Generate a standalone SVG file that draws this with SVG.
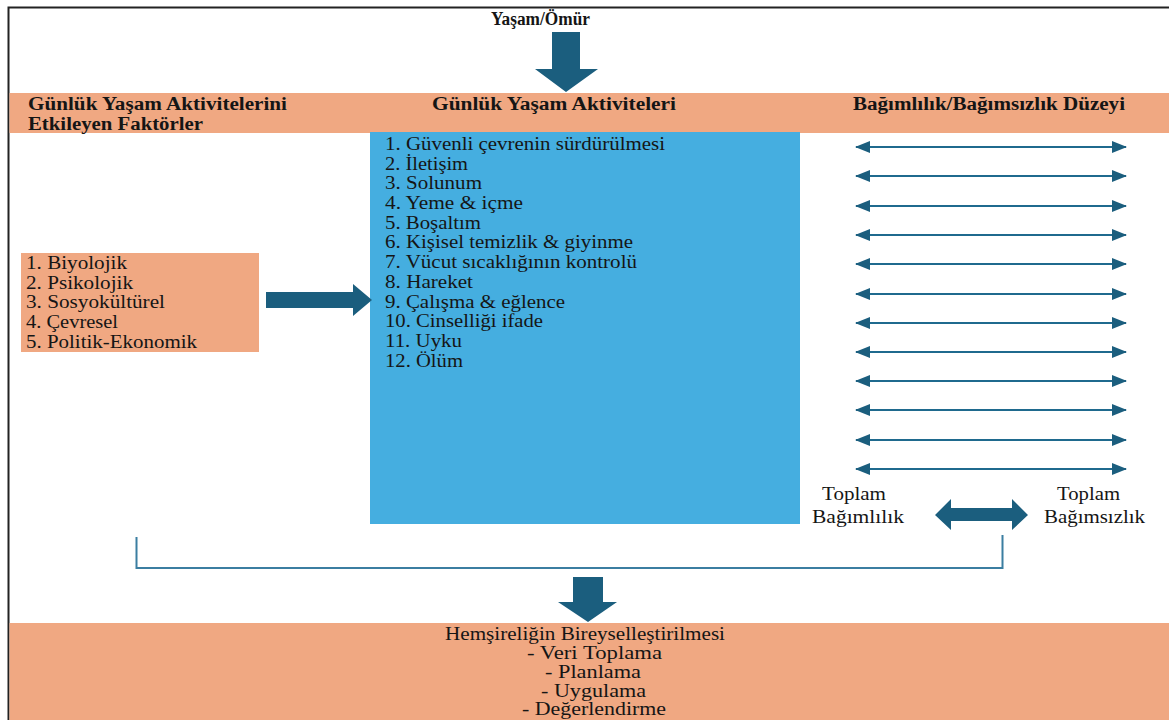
<svg xmlns="http://www.w3.org/2000/svg" width="1169" height="720" viewBox="0 0 1169 720">
<style>
text{font-family:"Liberation Serif","DejaVu Serif",serif;font-size:18px;fill:#151515}
.b{font-weight:bold}
.or{fill:#F0A882}
.ar{fill:#1B5E7E}
.dl{stroke:#1F6A8E;stroke-width:2.2;fill:none}
</style>
<defs>
<marker id="ah" viewBox="0 0 15 12" refX="14" refY="6" markerWidth="15" markerHeight="12" markerUnits="userSpaceOnUse" orient="auto-start-reverse">
<path d="M0,0 L15,6 L0,12 z" fill="#1B5E7E"/>
</marker>
</defs>
<rect x="0" y="0" width="1169" height="720" fill="#fff"/>
<rect x="8.5" y="7.5" width="1175" height="730" fill="none" stroke="#222" stroke-width="2"/>

<g id="header-band">
<rect class="or" x="9.5" y="93" width="1160" height="40"/>
</g>

<g id="node-yasam">
<text class="b" x="491" y="25" textLength="99" lengthAdjust="spacingAndGlyphs">Yaşam/Ömür</text>
</g>

<g id="header-left">
<text class="b" x="28" y="110" textLength="259" lengthAdjust="spacingAndGlyphs">Günlük Yaşam Aktivitelerini</text>
<text class="b" x="28" y="130" textLength="175" lengthAdjust="spacingAndGlyphs">Etkileyen Faktörler</text>
</g>
<g id="header-middle">
<text class="b" x="432" y="110" textLength="244" lengthAdjust="spacingAndGlyphs">Günlük Yaşam Aktiviteleri</text>
</g>
<g id="header-right">
<text class="b" x="853" y="110" textLength="272" lengthAdjust="spacingAndGlyphs">Bağımlılık/Bağımsızlık Düzeyi</text>
</g>

<g id="node-factors">
<rect class="or" x="21" y="253" width="238" height="99"/>
<text x="26" y="269" textLength="101" lengthAdjust="spacingAndGlyphs">1. Biyolojik</text>
<text x="26" y="289" textLength="107" lengthAdjust="spacingAndGlyphs">2. Psikolojik</text>
<text x="26" y="308" textLength="139" lengthAdjust="spacingAndGlyphs">3. Sosyokültürel</text>
<text x="26" y="328" textLength="92" lengthAdjust="spacingAndGlyphs">4. Çevresel</text>
<text x="26" y="348" textLength="171" lengthAdjust="spacingAndGlyphs">5. Politik-Ekonomik</text>
</g>

<g id="node-activities">
<rect x="370" y="132" width="430" height="392" fill="#45AEE0"/>
<text x="385" y="150" textLength="280" lengthAdjust="spacingAndGlyphs">1. Güvenli çevrenin sürdürülmesi</text>
<text x="385" y="170" textLength="83" lengthAdjust="spacingAndGlyphs">2. İletişim</text>
<text x="385" y="189" textLength="97" lengthAdjust="spacingAndGlyphs">3. Solunum</text>
<text x="385" y="209" textLength="138" lengthAdjust="spacingAndGlyphs">4. Yeme &amp; içme</text>
<text x="385" y="229" textLength="96" lengthAdjust="spacingAndGlyphs">5. Boşaltım</text>
<text x="385" y="248" textLength="248" lengthAdjust="spacingAndGlyphs">6. Kişisel temizlik &amp; giyinme</text>
<text x="385" y="268" textLength="252" lengthAdjust="spacingAndGlyphs">7. Vücut sıcaklığının kontrolü</text>
<text x="385" y="288" textLength="88" lengthAdjust="spacingAndGlyphs">8. Hareket</text>
<text x="385" y="308" textLength="180" lengthAdjust="spacingAndGlyphs">9. Çalışma &amp; eğlence</text>
<text x="385" y="327" textLength="158" lengthAdjust="spacingAndGlyphs">10. Cinselliği ifade</text>
<text x="385" y="347" textLength="77" lengthAdjust="spacingAndGlyphs">11. Uyku</text>
<text x="385" y="367" textLength="78" lengthAdjust="spacingAndGlyphs">12. Ölüm</text>
</g>

<g id="node-toplam-bagimlilik">
<text x="822" y="500" textLength="64" lengthAdjust="spacingAndGlyphs">Toplam</text>
<text x="812" y="523" textLength="92" lengthAdjust="spacingAndGlyphs">Bağımlılık</text>
</g>
<g id="node-toplam-bagimsizlik">
<text x="1057" y="500" textLength="63" lengthAdjust="spacingAndGlyphs">Toplam</text>
<text x="1044" y="523" textLength="101" lengthAdjust="spacingAndGlyphs">Bağımsızlık</text>
</g>

<g id="node-bireysel">
<rect class="or" x="9.5" y="623" width="1160" height="97"/>
<text x="445" y="640" textLength="280" lengthAdjust="spacingAndGlyphs">Hemşireliğin Bireyselleştirilmesi</text>
<text x="527" y="659" textLength="135" lengthAdjust="spacingAndGlyphs">-   Veri Toplama</text>
<text x="545" y="678" textLength="96" lengthAdjust="spacingAndGlyphs">-  Planlama</text>
<text x="541" y="697" textLength="105" lengthAdjust="spacingAndGlyphs">-  Uygulama</text>
<text x="522" y="715" textLength="144" lengthAdjust="spacingAndGlyphs">-  Değerlendirme</text>
</g>

<g id="connectors">
<path class="ar" d="M552,32 L580,32 L580,69 L598,69 L566,92 L535,69 L552,69 Z"/>
<path class="ar" d="M266,292 L353,292 L353,284 L372,300 L353,316 L353,308 L266,308 Z"/>
<path class="ar" d="M573,577 L603,577 L603,602 L617,602 L588,622 L558,602 L573,602 Z"/>
<path class="ar" d="M935,515 L951,499 L951,508 L1012,508 L1012,499 L1028,515 L1012,530 L1012,521 L951,521 L951,530 Z"/>
<g class="dl" marker-start="url(#ah)" marker-end="url(#ah)">
<line x1="856" y1="147" x2="1126" y2="147"/>
<line x1="856" y1="176" x2="1126" y2="176"/>
<line x1="856" y1="206" x2="1126" y2="206"/>
<line x1="856" y1="235" x2="1126" y2="235"/>
<line x1="856" y1="264" x2="1126" y2="264"/>
<line x1="856" y1="294" x2="1126" y2="294"/>
<line x1="856" y1="323" x2="1126" y2="323"/>
<line x1="856" y1="352" x2="1126" y2="352"/>
<line x1="856" y1="381" x2="1126" y2="381"/>
<line x1="856" y1="410" x2="1126" y2="410"/>
<line x1="856" y1="440" x2="1126" y2="440"/>
<line x1="856" y1="469" x2="1126" y2="469"/>
</g>
<path d="M136.5,537 L136.5,568 L1002.5,568 L1002.5,535" fill="none" stroke="#3B7EA1" stroke-width="2"/>
</g>
</svg>
